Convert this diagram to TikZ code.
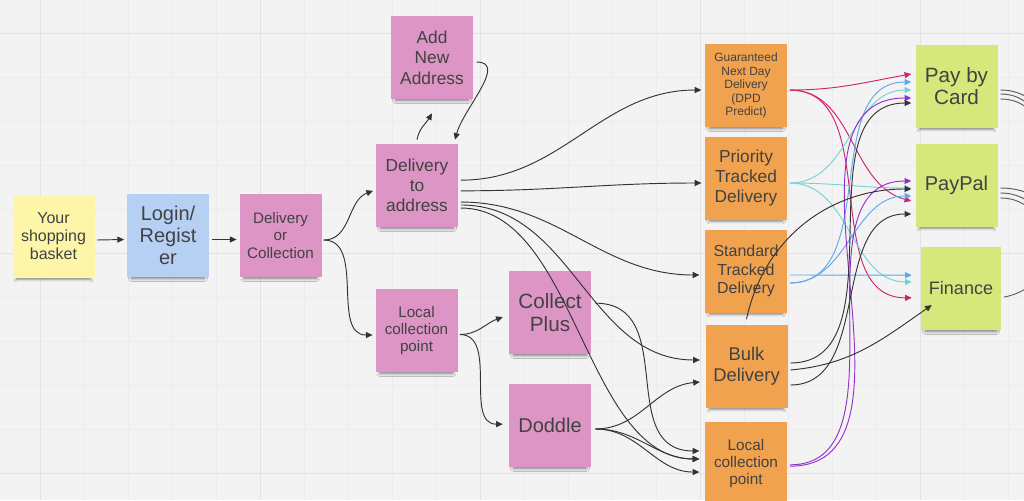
\documentclass[tikz,border=0pt]{standalone}
\usepackage{fontspec}
\setmainfont{Liberation Sans}
\usetikzlibrary{arrows.meta,shadows.blur}

\definecolor{boardbg}{HTML}{F3F3F3}
\definecolor{minorline}{HTML}{ECECEC}
\definecolor{majorline}{HTML}{E2E2E2}
\definecolor{notetext}{HTML}{424242}
\definecolor{yellownote}{HTML}{FDF5A8}
\definecolor{bluenote}{HTML}{B6D0F3}
\definecolor{pinknote}{HTML}{DC95C5}
\definecolor{orangenote}{HTML}{F0A24F}
\definecolor{greennote}{HTML}{D6E77C}
\definecolor{linkgray}{HTML}{333333}
\definecolor{linkmagenta}{HTML}{D0246E}
\definecolor{linkcyan}{HTML}{72D3D6}
\definecolor{linkblue}{HTML}{5EA8F0}
\definecolor{linkpurple}{HTML}{9330C8}

\begin{document}
\begin{tikzpicture}[x=0.75pt, y=-0.75pt,
  note/.style={fill=#1, minimum width=61.5pt, minimum height=62.25pt, inner sep=1pt,
    align=center, text=notetext,
    blur shadow={shadow xshift=0pt, shadow yshift=-5pt, shadow scale=0.9,
      shadow blur radius=2pt, shadow opacity=45}},
  link/.style={-{Triangle[length=5pt,width=4.5pt]}, line width=0.7pt, draw=linkgray},
  mlink/.style={link, draw=linkmagenta, -{Triangle[length=5pt,width=4.5pt,fill=linkmagenta]}},
  clink/.style={link, draw=linkcyan, -{Triangle[length=5pt,width=4.5pt,fill=linkcyan]}},
  blink/.style={link, draw=linkblue, -{Triangle[length=5pt,width=4.5pt,fill=linkblue]}},
  plink/.style={link, draw=linkpurple, -{Triangle[length=5pt,width=4.5pt,fill=linkpurple]}},
  offlink/.style={line width=0.7pt, draw=linkgray!80}]

\useasboundingbox (0,0) rectangle (1024,500);

% board
\fill[boardbg] (0,0) rectangle (1024,500);
\foreach \gx in {-4,40,...,1024} \draw[minorline, line width=0.5pt] (\gx,0) -- (\gx,500);
\foreach \gy in {-11,33,...,500} \draw[minorline, line width=0.5pt] (0,\gy) -- (1024,\gy);
\foreach \gx in {40,260,...,1024} \draw[majorline, line width=0.7pt] (\gx,0) -- (\gx,500);
\foreach \gy in {33,253,473} \draw[majorline, line width=0.7pt] (0,\gy) -- (1024,\gy);

% basket and login
\node[note=yellownote, font=\fontsize{12}{13.5}\selectfont] (basket) at (53.5,236) {Your\\shopping\\basket};
\node[note=bluenote, font=\fontsize{15}{16.5}\selectfont] (login) at (168,235.5) {Login/\\Regist\\er};
\node[note=pinknote, font=\fontsize{11.4}{12.8}\selectfont] (dorc) at (280.5,235.5) {Delivery\\or\\Collection};

% delivery or collection
\node[note=pinknote, font=\fontsize{13}{15}\selectfont] (dta) at (417,185.5) {Delivery\\to\\address};
\node[note=pinknote, font=\fontsize{13}{15.4}\selectfont] (addr) at (432,57.5) {Add\\New\\Address};
\node[note=pinknote, font=\fontsize{11.4}{13}\selectfont] (lcp) at (416.5,330.5) {Local\\collection\\point};
\node[note=pinknote, font=\fontsize{15.5}{17}\selectfont] (cplus) at (550,312.5) {Collect\\Plus};
\node[note=pinknote, font=\fontsize{15}{17}\selectfont] (doddle) at (550,425.5) {Doddle};

% delivery options
\node[note=orangenote, font=\fontsize{9}{10.1}\selectfont] (gnd) at (746,85.5) {Guaranteed\\Next Day\\Delivery\\(DPD\\Predict)};
\node[note=orangenote, font=\fontsize{13}{15}\selectfont] (ptd) at (746,178) {Priority\\Tracked\\Delivery};
\node[note=orangenote, font=\fontsize{12}{13.7}\selectfont] (std) at (746,271) {Standard\\Tracked\\Delivery};
\node[note=orangenote, font=\fontsize{13.8}{15.7}\selectfont] (bulk) at (746.5,366) {Bulk\\Delivery};
\node[note=orangenote, font=\fontsize{11.5}{13}\selectfont] (lcpo) at (746,463.5) {Local\\collection\\point};

% payment
\node[note=greennote, font=\fontsize{15.5}{17}\selectfont] (card) at (956.5,86) {Pay by\\Card};
\node[note=greennote, font=\fontsize{15}{17}\selectfont] (paypal) at (956.5,185) {PayPal};
\node[note=greennote, minimum width=60pt, font=\fontsize{13.5}{15}\selectfont] (finance) at (961,288.5) {Finance};

\coordinate (offa) at (1075,135);
\coordinate (offb) at (1075,165);
\coordinate (offc) at (1075,195);
\coordinate (offd) at (1075,215);
\coordinate (offe) at (1075,240);
\coordinate (offf) at (1075,262);
\coordinate (offg) at (1075,255);

% main flow
\draw[link] ([xshift=1.5pt,yshift=-3pt]basket.east) -- ([xshift=-2pt,yshift=-3pt]login.west);
\draw[link] ([xshift=2pt,yshift=-3pt]login.east) -- ([xshift=-2pt,yshift=-3pt]dorc.west);
\draw[link] ([xshift=1.5pt,yshift=-3.4pt]dorc.east) to[out=0,in=200] ([xshift=-2pt,yshift=-4pt]dta.west);
\draw[link] ([xshift=1.5pt,yshift=-3.4pt]dorc.east) to[out=0,in=180] ([xshift=-2pt,yshift=-3.4pt]lcp.west);

% new address
\draw[link] ([yshift=3pt]dta.north) to[out=80,in=240] ([yshift=-10.5pt]addr.south);
\draw[link] ([xshift=2.5pt,yshift=-3.4pt]addr.east) to[out=0,in=75] ([xshift=28.5pt,yshift=3pt]dta.north);

% to the delivery options
\draw[link] ([xshift=2pt,yshift=4pt]dta.east) to[out=0,in=180] ([xshift=-2.5pt,yshift=-3.4pt]gnd.west);
\draw[link] ([xshift=2pt,yshift=-4pt]dta.east) to[out=0,in=180] ([xshift=-2.5pt,yshift=-3.75pt]ptd.west);
\draw[link] ([xshift=2pt,yshift=-12.4pt]dta.east) to[out=0,in=180] ([xshift=-4pt,yshift=-3pt]std.west);
\draw[link] ([xshift=2pt,yshift=-14.6pt]dta.east) to[out=0,in=180] ([xshift=-4pt,yshift=4.5pt]bulk.west);
\draw[link] ([xshift=2pt,yshift=-16.9pt]dta.east) to[out=0,in=180,looseness=0.85] ([xshift=-4pt,yshift=3.4pt]lcpo.west);

% collection branch
\draw[link] ([xshift=1.5pt,yshift=-3pt]lcp.east) to[out=0,in=200] ([xshift=-4.5pt,yshift=-3.4pt]cplus.west);
\draw[link] ([xshift=1.5pt,yshift=-3pt]lcp.east) to[out=0,in=180] ([xshift=-4.5pt,yshift=1pt]doddle.west);
\draw[link] ([xshift=3pt,yshift=7pt]cplus.east) to[out=0,in=180,looseness=1.2] ([xshift=-4pt,yshift=9.4pt]lcpo.west);
\draw[link] ([xshift=3pt,yshift=-2.6pt]doddle.east) to[out=0,in=185] ([xshift=-4pt,yshift=-12pt]bulk.west);
\draw[link] ([xshift=3pt,yshift=-2.6pt]doddle.east) to[out=0,in=180] ([xshift=-4pt,yshift=3.4pt]lcpo.west);
\draw[link] ([xshift=3pt,yshift=-2.6pt]doddle.east) to[out=0,in=180] ([xshift=-4pt,yshift=-6.4pt]lcpo.west);

% guaranteed (magenta)
\draw[mlink] ([xshift=2pt,yshift=-3.4pt]gnd.east) to[out=0,in=190] ([xshift=-3pt,yshift=9pt]card.west);
\draw[mlink] ([xshift=2pt,yshift=-3.4pt]gnd.east) to[out=0,in=165] ([xshift=-3pt,yshift=-12pt]paypal.west);
\draw[mlink] ([xshift=2pt,yshift=-3.4pt]gnd.east) to[out=0,in=180] ([xshift=-6.75pt,yshift=-7pt]finance.west);

% priority (cyan)
\draw[clink] ([xshift=2pt,yshift=-3.75pt]ptd.east) to[out=0,in=180] ([xshift=-3pt,yshift=-3pt]card.west);
\draw[clink] ([xshift=2pt,yshift=-3.75pt]ptd.east) to[out=0,in=180] ([xshift=-3pt,yshift=-2.25pt]paypal.west);
\draw[clink] ([xshift=2pt,yshift=-3.75pt]ptd.east) to[out=0,in=180] ([xshift=-6.75pt,yshift=4.9pt]finance.west);

% standard (blue)
\draw[blink] ([xshift=2pt,yshift=-3pt]std.east) -- ([xshift=-6.75pt,yshift=10pt]finance.west);
\draw[blink] ([xshift=2pt,yshift=-9pt]std.east) to[out=0,in=180] ([xshift=-3pt,yshift=3pt]card.west);
\draw[blink] ([xshift=2pt,yshift=-9pt]std.east) to[out=0,in=180] ([xshift=-3pt,yshift=-8.25pt]paypal.west);

% local collection (purple)
\draw[plink] ([xshift=2pt,yshift=-2pt]lcpo.east) to[out=0,in=180] ([xshift=-3pt,yshift=-9pt]card.west);
\draw[plink] ([xshift=2pt,yshift=-1pt]lcpo.east) to[out=0,in=180] ([xshift=-3pt,yshift=3pt]paypal.west);

% bulk (black)
\draw[link] ([xshift=2pt,yshift=2.25pt]bulk.east) to[out=0,in=180] ([xshift=-3pt,yshift=-12.75pt]card.west);
\draw[link] ([xshift=2pt,yshift=-3pt]bulk.east) to[out=5,in=215] ([xshift=8.25pt,yshift=-12.4pt]finance.west);
\draw[link] ([xshift=2pt,yshift=-14.25pt]bulk.east) to[out=0,in=180] ([xshift=-3pt,yshift=-21.75pt]paypal.west);
\draw[link] ([yshift=3.75pt]bulk.north) to[out=78,in=180] ([xshift=-3pt,yshift=-3pt]paypal.west);

% leaving the board
\draw[offlink] ([xshift=2pt,yshift=-3pt]card.east) to[out=0,in=150] (offa);
\draw[offlink] ([xshift=2pt,yshift=-6pt]card.east) to[out=0,in=140] (offb);
\draw[offlink] ([xshift=2pt,yshift=-9.75pt]card.east) to[out=0,in=130] (offc);
\draw[offlink] ([xshift=2pt,yshift=-2.25pt]paypal.east) to[out=0,in=160] (offd);
\draw[offlink] ([xshift=2pt,yshift=-6pt]paypal.east) to[out=0,in=150] (offe);
\draw[offlink] ([xshift=2pt,yshift=-9.75pt]paypal.east) to[out=0,in=140] (offf);
\draw[offlink] ([xshift=2pt,yshift=-6.4pt]finance.east) to[out=10,in=200] (offg);
\end{tikzpicture}
\end{document}
